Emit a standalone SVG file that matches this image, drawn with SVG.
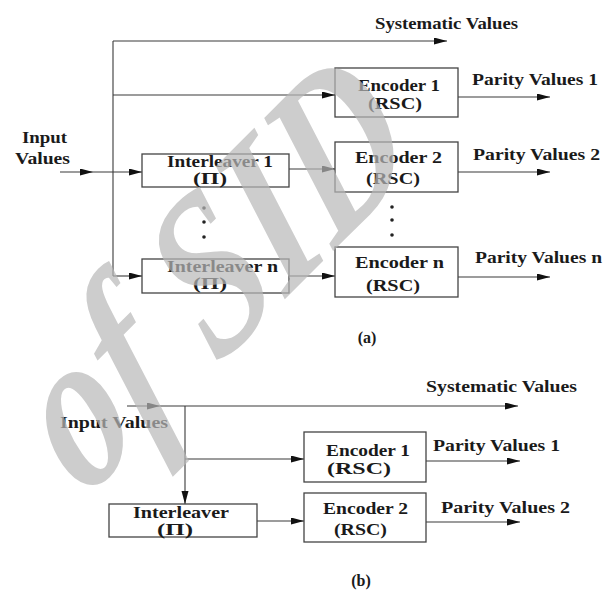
<svg xmlns="http://www.w3.org/2000/svg" width="603" height="590" viewBox="0 0 603 590">
<defs>
<marker id="ah" markerUnits="userSpaceOnUse" markerWidth="14" markerHeight="8" refX="13" refY="3.5" orient="auto">
<path d="M0,0 L13,3.5 L0,7 z" fill="#111"/>
</marker>
<style>
.ln{stroke:#3a3a3a;stroke-width:1.1;fill:none}
.ar{stroke:#3a3a3a;stroke-width:1.1;fill:none;marker-end:url(#ah)}
.bx{stroke:#444;stroke-width:1.3;fill:none}
.t{font-family:"Liberation Serif","Times New Roman",serif;font-weight:bold;font-size:16px;fill:#1a1a1a}
.c{text-anchor:middle}
.dot{fill:#222}
.wm{font-family:"Liberation Serif","Times New Roman",serif;font-weight:bold;font-style:italic;font-size:218px;fill:#b8b8b8;opacity:0.7}
</style>
</defs>
<rect width="603" height="590" fill="#fff"/>

<g id="connectors">
<!-- (a) -->
<path class="ln" d="M113,276 V41"/>
<path class="ar" d="M113,41 H447"/>
<path class="ar" d="M113,95 H335"/>
<path class="ar" d="M60,172 H93"/>
<path class="ar" d="M93,172 H142"/>
<path class="ar" d="M113,276 H142"/>
<path class="ar" d="M289,169 H335"/>
<path class="ar" d="M289,276 H335"/>
<path class="ar" d="M458,97 H550"/>
<path class="ar" d="M458,172 H550"/>
<path class="ar" d="M458,277 H550"/>
<!-- (b) -->
<path class="ar" d="M127,406 H160"/>
<path class="ar" d="M160,406 H518"/>
<path class="ar" d="M185,406 V504"/>
<path class="ar" d="M185,459 H304"/>
<path class="ar" d="M257,521 H304"/>
<path class="ar" d="M426,461 H520"/>
<path class="ar" d="M426,522 H520"/>
</g>

<g id="labels-a">
<text class="t" x="375" y="29" textLength="143" lengthAdjust="spacingAndGlyphs">Systematic Values</text>
<text class="t" x="22" y="143" textLength="45" lengthAdjust="spacingAndGlyphs">Input</text>
<text class="t" x="15" y="164" textLength="55" lengthAdjust="spacingAndGlyphs">Values</text>
<text class="t" x="472" y="85" textLength="126" lengthAdjust="spacingAndGlyphs">Parity Values 1</text>
<text class="t" x="473" y="160" textLength="127" lengthAdjust="spacingAndGlyphs">Parity Values 2</text>
<text class="t" x="475" y="263" textLength="127" lengthAdjust="spacingAndGlyphs">Parity Values n</text>
<text class="t c" x="367" y="343" font-size="17">(a)</text>
</g>

<g id="interleaver1">
<rect class="bx" x="142" y="154" width="147" height="33"/>
<text class="t" x="167" y="167" textLength="106" lengthAdjust="spacingAndGlyphs">Interleaver 1</text>
<text class="t" x="193" y="184" textLength="34" lengthAdjust="spacingAndGlyphs">(Π)</text>
</g>
<g id="dots-a">
<circle class="dot" cx="204" cy="208" r="1.8"/>
<circle class="dot" cx="204" cy="222" r="1.8"/>
<circle class="dot" cx="204" cy="237" r="1.8"/>
<circle class="dot" cx="392" cy="207" r="1.8"/>
<circle class="dot" cx="392" cy="220" r="1.8"/>
<circle class="dot" cx="392" cy="235" r="1.8"/>
</g>
<g id="interleavern">
<rect class="bx" x="142" y="259" width="147" height="34"/>
<text class="t" x="167" y="272" textLength="111" lengthAdjust="spacingAndGlyphs">Interleaver n</text>
<text class="t" x="193" y="289" textLength="34" lengthAdjust="spacingAndGlyphs">(Π)</text>
</g>
<g id="encoder1">
<rect class="bx" x="335" y="68" width="123" height="49"/>
<text class="t" x="358" y="91" textLength="82" lengthAdjust="spacingAndGlyphs">Encoder 1</text>
<text class="t" x="368" y="109" textLength="54" lengthAdjust="spacingAndGlyphs">(RSC)</text>
</g>
<g id="encoder2">
<rect class="bx" x="335" y="142" width="123" height="50"/>
<text class="t" x="355" y="163" textLength="87" lengthAdjust="spacingAndGlyphs">Encoder 2</text>
<text class="t" x="366" y="184" textLength="54" lengthAdjust="spacingAndGlyphs">(RSC)</text>
</g>
<g id="encodern">
<rect class="bx" x="335" y="247" width="123" height="50"/>
<text class="t" x="355" y="268" textLength="89" lengthAdjust="spacingAndGlyphs">Encoder n</text>
<text class="t" x="366" y="291" textLength="54" lengthAdjust="spacingAndGlyphs">(RSC)</text>
</g>

<g id="labels-b">
<text class="t" x="60" y="428" textLength="108" lengthAdjust="spacingAndGlyphs">Input Values</text>
<text class="t" x="426" y="392" textLength="151" lengthAdjust="spacingAndGlyphs">Systematic Values</text>
<text class="t" x="433" y="451" textLength="127" lengthAdjust="spacingAndGlyphs">Parity Values 1</text>
<text class="t" x="441" y="513" textLength="129" lengthAdjust="spacingAndGlyphs">Parity Values 2</text>
<text class="t c" x="361" y="586" font-size="17">(b)</text>
</g>
<g id="interleaver-b">
<rect class="bx" x="109" y="504" width="148" height="33"/>
<text class="t" x="133" y="518" textLength="96" lengthAdjust="spacingAndGlyphs">Interleaver</text>
<text class="t" x="157" y="535" textLength="36" lengthAdjust="spacingAndGlyphs">(Π)</text>
</g>
<g id="encoder1-b">
<rect class="bx" x="304" y="432" width="122" height="50"/>
<text class="t" x="326" y="456" textLength="84" lengthAdjust="spacingAndGlyphs">Encoder 1</text>
<text class="t" x="327" y="474" textLength="64" lengthAdjust="spacingAndGlyphs">(RSC)</text>
</g>
<g id="encoder2-b">
<rect class="bx" x="304" y="493" width="122" height="49"/>
<text class="t" x="323" y="514" textLength="85" lengthAdjust="spacingAndGlyphs">Encoder 2</text>
<text class="t" x="334" y="535" textLength="53" lengthAdjust="spacingAndGlyphs">(RSC)</text>
</g>

<g id="watermark">
<text class="wm" transform="translate(84,500) rotate(-45) skewX(-10) scale(0.8,1)">of SID</text>
</g>
</svg>
